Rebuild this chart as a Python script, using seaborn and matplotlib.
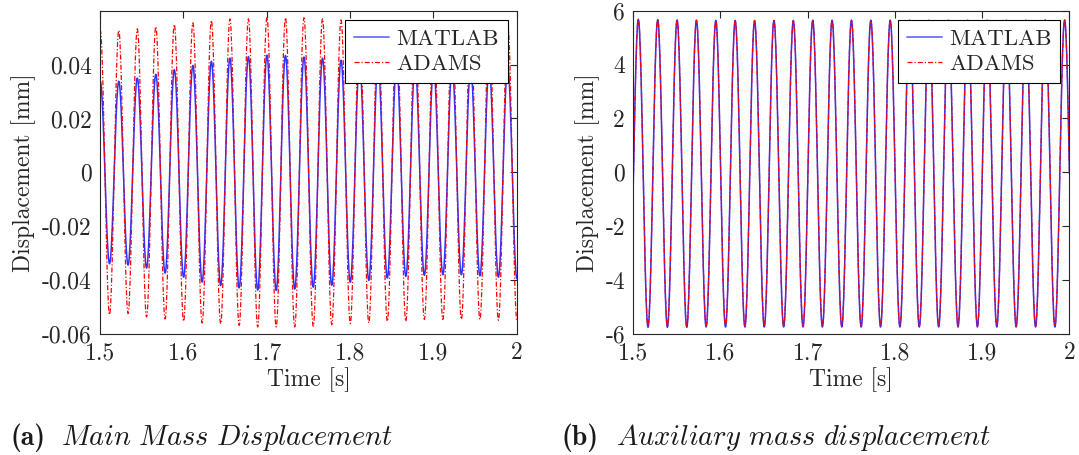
import numpy as np
import pandas as pd
import matplotlib
matplotlib.use("Agg")
import matplotlib.pyplot as plt
import seaborn as sns

# ---- data -----------------------------------------------------------------
# Forcing period (s) and time of the first peak inside the window
period = 0.02222
main_first_peak = 1.5003
aux_first_peak = 1.5058

# Main mass: per-cycle peak and trough values [mm]
# (trough lists include one trough before the first peak and one after the last)
main_matlab_peaks = [0.0338, 0.0338, 0.0350, 0.0364, 0.0381, 0.0397, 0.0412, 0.0424,
                     0.0430, 0.0435, 0.0434, 0.0428, 0.0424, 0.0416, 0.0410, 0.0405,
                     0.0400, 0.0396, 0.0392, 0.0389, 0.0388, 0.0389, 0.0393]
main_matlab_troughs = [-0.0335, -0.0339, -0.0344, -0.0355, -0.0374, -0.0389, -0.0407,
                       -0.0420, -0.0429, -0.0437, -0.0438, -0.0433, -0.0426, -0.0419,
                       -0.0408, -0.0401, -0.0392, -0.0386, -0.0382, -0.0380, -0.0380,
                       -0.0384, -0.0389, -0.0395]
main_adams_peaks = [0.0527, 0.0527, 0.0533, 0.0541, 0.0549, 0.0555, 0.0564, 0.0570,
                    0.0570, 0.0576, 0.0574, 0.0574, 0.0570, 0.0566, 0.0563, 0.0560,
                    0.0558, 0.0556, 0.0555, 0.0554, 0.0554, 0.0554, 0.0555]
main_adams_troughs = [-0.0525, -0.0528, -0.0524, -0.0537, -0.0544, -0.0553, -0.0559,
                      -0.0562, -0.0568, -0.0574, -0.0574, -0.0574, -0.0571, -0.0565,
                      -0.0561, -0.0559, -0.0553, -0.0553, -0.0546, -0.0546, -0.0546,
                      -0.0546, -0.0549, -0.0550]

# Auxiliary mass: per-cycle peak and trough values [mm]
aux_matlab_peaks = [5.68, 5.67, 5.66, 5.65, 5.64, 5.64, 5.64, 5.64, 5.64, 5.65, 5.65,
                    5.65, 5.65, 5.65, 5.65, 5.65, 5.65, 5.65, 5.65, 5.65, 5.65, 5.66, 5.66]
aux_matlab_troughs = [-5.74, -5.75, -5.75, -5.75, -5.74, -5.74, -5.74, -5.74, -5.74,
                      -5.74, -5.74, -5.74, -5.74, -5.74, -5.74, -5.74, -5.74, -5.74,
                      -5.74, -5.74, -5.74, -5.74, -5.74, -5.74]
aux_adams_peaks = [5.66, 5.66, 5.65, 5.64, 5.63, 5.63, 5.63, 5.63, 5.63, 5.64, 5.64,
                   5.64, 5.64, 5.64, 5.64, 5.64, 5.64, 5.64, 5.64, 5.64, 5.64, 5.65, 5.65]
aux_adams_troughs = [-5.70, -5.71, -5.71, -5.71, -5.70, -5.70, -5.70, -5.70, -5.70,
                     -5.70, -5.70, -5.70, -5.70, -5.70, -5.70, -5.70, -5.70, -5.70,
                     -5.70, -5.70, -5.70, -5.70, -5.70, -5.70]

series_names = ["MATLAB", "ADAMS"]
x_ticks = [1.5, 1.6, 1.7, 1.8, 1.9, 2.0]
x_tick_labels = ["1.5", "1.6", "1.7", "1.8", "1.9", "2"]
main_y_ticks = [-0.06, -0.04, -0.02, 0.0, 0.02, 0.04]
main_y_tick_labels = ["-0.06", "-0.04", "-0.02", "0", "0.02", "0.04"]
aux_y_ticks = [-6, -4, -2, 0, 2, 4, 6]
aux_y_tick_labels = ["-6", "-4", "-2", "0", "2", "4", "6"]
caption_tags = ["(a)", "(b)"]
caption_titles = [r"$\mathit{Main\ Mass\ Displacement}$",
                  r"$\mathit{Auxiliary\ mass\ displacement}$"]


def oscillation(first_peak, peaks, troughs, n=24):
    """Join successive extrema (trough, peak, trough, ...) with half-cosine arcs."""
    times, vals = [], []
    for k in range(len(peaks)):
        times += [first_peak + (k - 0.5) * period, first_peak + k * period]
        vals += [troughs[k], peaks[k]]
    times.append(first_peak + (len(peaks) - 0.5) * period)
    vals.append(troughs[len(peaks)])
    s = np.linspace(0.0, 1.0, n, endpoint=False)
    ts, ys = [], []
    for i in range(len(times) - 1):
        ts.append(times[i] + s * (times[i + 1] - times[i]))
        ys.append(vals[i] + (vals[i + 1] - vals[i]) * (1 - np.cos(np.pi * s)) / 2)
    ts.append([times[-1]])
    ys.append([vals[-1]])
    return np.concatenate(ts), np.concatenate(ys)


def frame(first_peak, matlab_p, matlab_t, adams_p, adams_t):
    t1, y1 = oscillation(first_peak, matlab_p, matlab_t)
    t2, y2 = oscillation(first_peak, adams_p, adams_t)
    return (pd.DataFrame({"Time": t1, "Disp": y1}),
            pd.DataFrame({"Time": t2, "Disp": y2}))


# ---- style ----------------------------------------------------------------
sns.set_style("white")
plt.rcParams.update({
    "font.family": "serif",
    "font.serif": ["cmr10", "DejaVu Serif"],
    "mathtext.fontset": "cm",
    "axes.unicode_minus": False,
    "axes.edgecolor": "#262626",
    "axes.linewidth": 0.8,
    "xtick.color": "#262626",
    "ytick.color": "#262626",
    "text.color": "#262626",
    "axes.labelcolor": "#262626",
})

fig = plt.figure(figsize=(10.79, 4.55), dpi=100)
ax_main = fig.add_axes([0.0927, 0.2659, 0.3862, 0.7105])
ax_aux = fig.add_axes([0.5869, 0.2659, 0.4041, 0.7105])

matlab_color = "#3030ff"
adams_color = "#ff0000"
adams_dash = (0, (4, 1.6, 1, 1.6))

panels = [
    (ax_main, frame(main_first_peak, main_matlab_peaks, main_matlab_troughs,
                    main_adams_peaks, main_adams_troughs),
     (-0.06, 0.06), main_y_ticks, main_y_tick_labels),
    (ax_aux, frame(aux_first_peak, aux_matlab_peaks, aux_matlab_troughs,
                   aux_adams_peaks, aux_adams_troughs),
     (-6, 6), aux_y_ticks, aux_y_tick_labels),
]

for ax, (df_matlab, df_adams), ylim, yt, ytl in panels:
    sns.lineplot(data=df_matlab, x="Time", y="Disp", ax=ax, sort=False,
                 estimator=None, color=matlab_color, linewidth=1.1,
                 label=series_names[0])
    sns.lineplot(data=df_adams, x="Time", y="Disp", ax=ax, sort=False,
                 estimator=None, color=adams_color, linewidth=0.9,
                 linestyle=adams_dash, label=series_names[1])
    ax.set_xlim(1.5, 2.0)
    ax.set_ylim(*ylim)
    ax.set_xticks(x_ticks)
    ax.set_xticklabels(x_tick_labels)
    ax.set_yticks(yt)
    ax.set_yticklabels(ytl)
    ax.tick_params(direction="in", length=5, width=0.8, top=True, right=True,
                   labelsize=17, pad=6)
    ax.set_xlabel("Time [s]", fontsize=17, labelpad=2)
    ax.set_ylabel("Displacement [mm]", fontsize=17, labelpad=4)
    for sp in ax.spines.values():
        sp.set_visible(True)
    leg = ax.legend(loc="upper right", fontsize=16.5, frameon=True, fancybox=False,
                    framealpha=1, edgecolor="#000000", handlelength=1.55,
                    handletextpad=0.3, labelspacing=0.25, borderpad=0.38,
                    borderaxespad=0.4)
    leg.get_frame().set_linewidth(0.8)
    leg.get_lines()[0].set_color("#7a7aff")
    leg.get_lines()[0].set_linewidth(1.4)

# Sub-figure captions: bold tag followed by an italic title
for tag_x, title_x, tag, title in [(0.0093, 0.0565, caption_tags[0], caption_titles[0]),
                                   (0.5205, 0.5705, caption_tags[1], caption_titles[1])]:
    fig.text(tag_x, 0.022, tag, fontsize=20, family="cmb10", ha="left",
             va="baseline", color="#1a1a1a")
    fig.text(title_x, 0.022, title, fontsize=20.5, ha="left", va="baseline",
             color="#1a1a1a")

fig.savefig("out.png", dpi=100)
